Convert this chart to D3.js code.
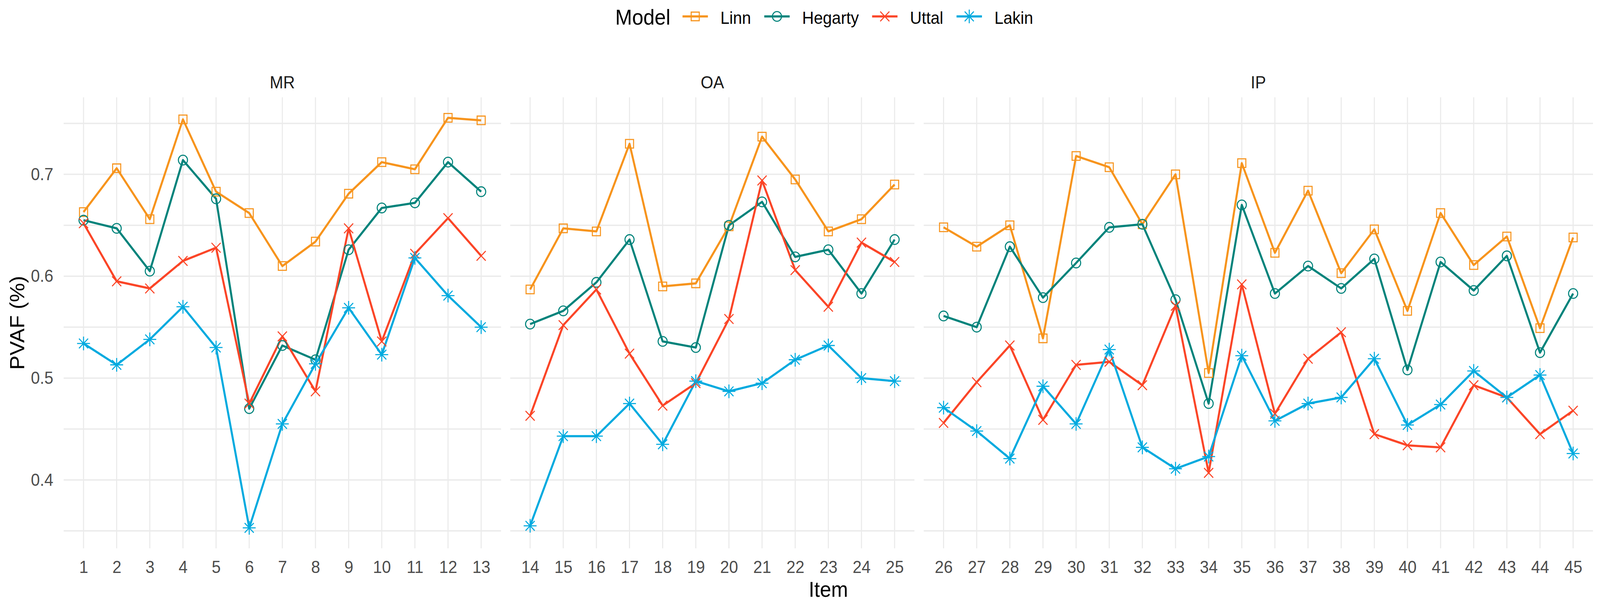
<!DOCTYPE html>
<html>
<head>
<meta charset="utf-8">
<script src="https://cdn.jsdelivr.net/npm/d3@7"></script>
<style>
  html, body { margin: 0; padding: 0; background: #fff; overflow: hidden; }
  #chart svg { display: block; width: 100vw; height: 100vh; }
  svg text { font-family: "Liberation Sans", Arial, sans-serif; }
</style>
</head>
<body>
<div id="chart"></div>
<script>
// ---- data ----
const models = ['Linn', 'Hegarty', 'Uttal', 'Lakin'];
const modelColors = ['#F7941D', '#00837B', '#FB4527', '#00AADF'];
const modelShapes = ['square', 'circle', 'cross', 'asterisk'];

const facets = ['MR', 'OA', 'IP'];
const facetItems = [
  [1, 2, 3, 4, 5, 6, 7, 8, 9, 10, 11, 12, 13],
  [14, 15, 16, 17, 18, 19, 20, 21, 22, 23, 24, 25],
  [26, 27, 28, 29, 30, 31, 32, 33, 34, 35, 36, 37, 38, 39, 40, 41, 42, 43, 44, 45]
];

// PVAF per item 1..45
const linn = [
  0.663, 0.706, 0.656, 0.754, 0.683, 0.662, 0.610, 0.634, 0.681, 0.712, 0.705, 0.7555, 0.753,
  0.587, 0.647, 0.644, 0.730, 0.590, 0.593, 0.649, 0.737, 0.695, 0.644, 0.656, 0.690,
  0.648, 0.629, 0.650, 0.539, 0.718, 0.707, 0.651, 0.700, 0.505, 0.711, 0.623, 0.684, 0.603, 0.646, 0.566, 0.662, 0.611, 0.639, 0.549, 0.638
];
const hegarty = [
  0.655, 0.647, 0.605, 0.714, 0.676, 0.470, 0.532, 0.518, 0.626, 0.667, 0.672, 0.712, 0.683,
  0.553, 0.566, 0.594, 0.636, 0.536, 0.530, 0.650, 0.673, 0.619, 0.626, 0.583, 0.636,
  0.561, 0.550, 0.629, 0.579, 0.613, 0.648, 0.651, 0.577, 0.475, 0.670, 0.583, 0.610, 0.588, 0.617, 0.508, 0.614, 0.586, 0.620, 0.525, 0.583
];
const uttal = [
  0.652, 0.595, 0.588, 0.615, 0.628, 0.475, 0.541, 0.487, 0.647, 0.536, 0.622, 0.657, 0.620,
  0.463, 0.552, 0.587, 0.524, 0.473, 0.495, 0.558, 0.694, 0.606, 0.570, 0.633, 0.614,
  0.456, 0.496, 0.532, 0.459, 0.513, 0.516, 0.493, 0.571, 0.407, 0.592, 0.465, 0.519, 0.545, 0.445, 0.434, 0.432, 0.493, 0.481, 0.445, 0.468
];
const lakin = [
  0.534, 0.513, 0.538, 0.570, 0.530, 0.353, 0.455, 0.514, 0.569, 0.523, 0.618, 0.581, 0.550,
  0.355, 0.443, 0.443, 0.475, 0.435, 0.497, 0.487, 0.495, 0.518, 0.532, 0.500, 0.497,
  0.471, 0.448, 0.421, 0.492, 0.455, 0.528, 0.432, 0.411, 0.423, 0.522, 0.458, 0.475, 0.481, 0.519, 0.454, 0.474, 0.507, 0.481, 0.503, 0.426
];
const seriesValues = [linn, hegarty, uttal, lakin];

const yTicks = [0.4, 0.5, 0.6, 0.7];
const yMinorTicks = [0.35, 0.45, 0.55, 0.65, 0.75];

// ggplot-like point shapes (pch 0, 1, 4, 8)
function shapePath(shape, r) {
  const p = d3.path();
  if (shape === 'square') {
    const h = r * 0.886;
    p.rect(-h, -h, 2 * h, 2 * h);
  } else if (shape === 'circle') {
    p.arc(0, 0, r, 0, 2 * Math.PI);
  } else if (shape === 'cross') {
    p.moveTo(-r, -r); p.lineTo(r, r);
    p.moveTo(-r, r); p.lineTo(r, -r);
  } else {
    const q = r * Math.SQRT2;
    p.moveTo(-r, -r); p.lineTo(r, r);
    p.moveTo(-r, r); p.lineTo(r, -r);
    p.moveTo(-q, 0); p.lineTo(q, 0);
    p.moveTo(0, -q); p.lineTo(0, q);
  }
  return p.toString();
}

class FacetLineChart {

  constructor(_config) {
    this.config = {
      parentElement: _config.parentElement,
      containerWidth: 4348,
      containerHeight: 1571,
      margin: {top: 249, right: 19, bottom: 168, left: 173},
      panelGap: 25,
      itemPad: 0.6,
      lineWidth: 5.5,
      pointRadius: 12.4,
      pointStroke: 2.8,
      gridColor: '#EBEBEB',
      gridWidth: 3.5
    };
    this.initVis();
  }

  initVis() {
    let vis = this;
    const cfg = vis.config;

    cfg.width = cfg.containerWidth - cfg.margin.left - cfg.margin.right;
    cfg.height = cfg.containerHeight - cfg.margin.top - cfg.margin.bottom;

    // viewBox stretched over the whole window, so the figure fills the photograph
    vis.svg = d3.select(cfg.parentElement).append('svg')
        .attr('viewBox', `0 0 ${cfg.containerWidth} ${cfg.containerHeight}`)
        .attr('preserveAspectRatio', 'none');

    vis.chart = vis.svg.append('g')
        .attr('transform', `translate(${cfg.margin.left},${cfg.margin.top})`);

    // y scale shared by all facets, 5% expansion like ggplot
    const [yMin, yMax] = d3.extent(seriesValues.flat());
    const yPad = (yMax - yMin) * 0.05;
    vis.yScale = d3.scaleLinear()
        .domain([yMin - yPad, yMax + yPad])
        .range([cfg.height, 0]);

    // free x space per facet (discrete scale, 0.6 padding each side)
    const spans = facetItems.map(items => items.length - 1 + 2 * cfg.itemPad);
    const unit = (cfg.width - cfg.panelGap * (facets.length - 1)) / d3.sum(spans);
    let x0 = 0;
    let offset = 0;
    vis.panels = facets.map((f, i) => {
      const items = facetItems[i];
      const w = spans[i] * unit;
      const panel = {
        name: f,
        items: items,
        x0: x0,
        width: w,
        offset: offset,
        xScale: d3.scaleLinear()
            .domain([items[0] - cfg.itemPad, items[items.length - 1] + cfg.itemPad])
            .range([x0, x0 + w])
      };
      x0 += w + cfg.panelGap;
      offset += items.length;
      return panel;
    });

    vis.renderVis();
    vis.renderLegend();
  }

  renderVis() {
    let vis = this;
    const cfg = vis.config;

    const panelG = vis.chart.selectAll('.panel')
        .data(vis.panels)
      .join('g')
        .attr('class', 'panel');

    // horizontal grid (major + minor)
    panelG.selectAll('.h-grid')
        .data(p => yMinorTicks.concat(yTicks).map(v => ({p: p, v: v})))
      .join('line')
        .attr('class', 'h-grid')
        .attr('x1', d => d.p.x0)
        .attr('x2', d => d.p.x0 + d.p.width)
        .attr('y1', d => vis.yScale(d.v))
        .attr('y2', d => vis.yScale(d.v))
        .attr('stroke', cfg.gridColor)
        .attr('stroke-width', cfg.gridWidth);

    // vertical grid at each item
    panelG.selectAll('.v-grid')
        .data(p => p.items.map(it => ({p: p, item: it})))
      .join('line')
        .attr('class', 'v-grid')
        .attr('x1', d => d.p.xScale(d.item))
        .attr('x2', d => d.p.xScale(d.item))
        .attr('y1', 0)
        .attr('y2', cfg.height)
        .attr('stroke', cfg.gridColor)
        .attr('stroke-width', 3);

    // strip labels
    panelG.append('text')
        .attr('x', p => p.x0 + p.width / 2)
        .attr('y', 226 - cfg.margin.top)
        .attr('text-anchor', 'middle')
        .attr('font-size', 44)
        .attr('fill', '#1A1A1A')
        .text(p => p.name);

    // x axis per facet
    panelG.each(function(p) {
      const axis = d3.axisBottom(p.xScale)
          .tickValues(p.items)
          .tickFormat(d3.format('d'))
          .tickSize(0)
          .tickPadding(32);
      const g = d3.select(this).append('g')
          .attr('class', 'x-axis')
          .attr('transform', `translate(0,${cfg.height})`)
          .call(axis);
      g.select('.domain').remove();
      g.selectAll('text')
          .attr('font-size', 44)
          .attr('fill', '#4D4D4D');
    });

    // lines and points
    panelG.each(function(p) {
      const g = d3.select(this);
      const line = d3.line()
          .x(d => p.xScale(d.item))
          .y(d => vis.yScale(d.value));

      const seriesData = models.map((m, i) => ({
        model: m,
        color: modelColors[i],
        shape: modelShapes[i],
        values: p.items.map((it, j) => ({item: it, value: seriesValues[i][p.offset + j]}))
      }));

      g.selectAll('.series-line')
          .data(seriesData)
        .join('path')
          .attr('class', 'series-line')
          .attr('d', d => line(d.values))
          .attr('fill', 'none')
          .attr('stroke', d => d.color)
          .attr('stroke-width', cfg.lineWidth)
          .attr('stroke-linejoin', 'round');

      seriesData.forEach(s => {
        g.selectAll(null)
            .data(s.values)
          .join('path')
            .attr('transform', d => `translate(${p.xScale(d.item)},${vis.yScale(d.value)})`)
            .attr('d', shapePath(s.shape, cfg.pointRadius))
            .attr('fill', 'none')
            .attr('stroke', s.color)
            .attr('stroke-width', cfg.pointStroke);
      });
    });

    // y axis
    const yAxis = d3.axisLeft(vis.yScale)
        .tickValues(yTicks)
        .tickFormat(d3.format('.1f'))
        .tickSize(0)
        .tickPadding(28);
    const yAxisG = vis.chart.append('g')
        .attr('class', 'y-axis')
        .call(yAxis);
    yAxisG.select('.domain').remove();
    yAxisG.selectAll('text')
        .attr('font-size', 44)
        .attr('fill', '#4D4D4D');

    // axis titles
    vis.svg.append('text')
        .attr('transform', `translate(66,${cfg.margin.top + cfg.height / 2}) rotate(-90)`)
        .attr('text-anchor', 'middle')
        .attr('font-size', 55)
        .attr('fill', '#000')
        .text('PVAF (%)');

    vis.svg.append('text')
        .attr('x', cfg.margin.left + cfg.width / 2)
        .attr('y', 1527)
        .attr('text-anchor', 'middle')
        .attr('font-size', 55)
        .attr('fill', '#000')
        .text('Item');
  }

  renderLegend() {
    let vis = this;
    const cfg = vis.config;
    const legend = vis.svg.append('g').attr('class', 'legend');
    const keyY = 42;

    const title = legend.append('text')
        .attr('x', 1672)
        .attr('y', 63)
        .attr('font-size', 55)
        .attr('fill', '#000')
        .text('Model');

    let x = 1672 + title.node().getComputedTextLength() + 33;
    models.forEach((m, i) => {
      const key = legend.append('g').attr('transform', `translate(${x},${keyY})`);
      key.append('line')
          .attr('x1', 0).attr('x2', 69)
          .attr('stroke', modelColors[i])
          .attr('stroke-width', 5.5);
      key.append('path')
          .attr('transform', 'translate(34.5,0)')
          .attr('d', shapePath(modelShapes[i], cfg.pointRadius))
          .attr('fill', 'none')
          .attr('stroke', modelColors[i])
          .attr('stroke-width', cfg.pointStroke);
      const label = legend.append('text')
          .attr('x', x + 69 + 34)
          .attr('y', 61)
          .attr('font-size', 44)
          .attr('fill', '#000')
          .text(m);
      x += 69 + 34 + label.node().getComputedTextLength() + 36;
    });
  }
}

new FacetLineChart({parentElement: '#chart'});
</script>
</body>
</html>
